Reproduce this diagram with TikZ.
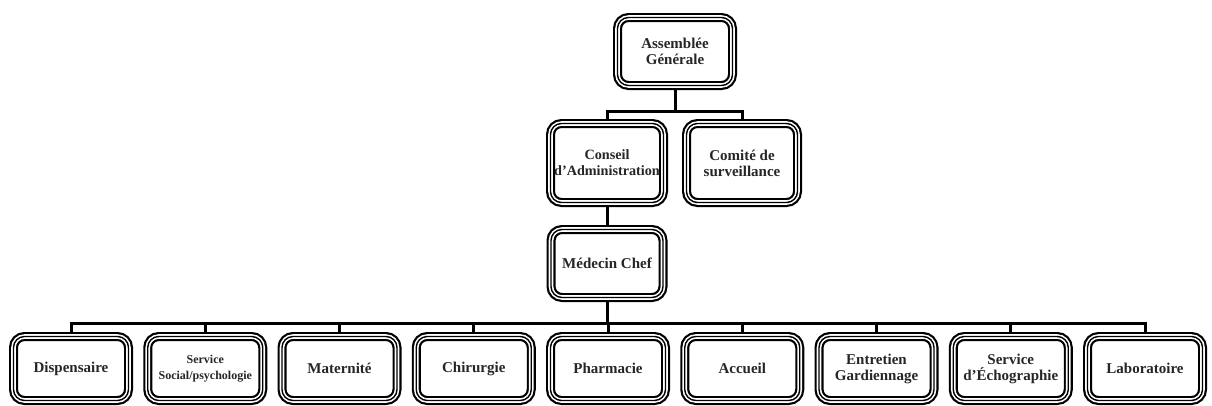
\documentclass[tikz,border=0pt]{standalone}
\usepackage{fontspec}
\setmainfont{Liberation Serif}
\newcommand\smalltxt{\fontsize{12}{13.5}\selectfont}
\tikzset{
    unit/.style={rectangle, rounded corners=11pt, draw=black, line width=9pt, fill=white,
        align=center, font=\bfseries\fontsize{15}{16}\selectfont, text=black!85,
        minimum width=115pt, minimum height=68pt, inner sep=1pt,
        postaction={draw=white, line width=4.6pt},
        postaction={draw=black, line width=1.4pt}},
    link/.style={line width=3pt, line cap=rect}
}
\begin{document}
\begin{tikzpicture}[x=1pt, y=-1pt]
    \useasboundingbox (0,0) rectangle (1212,405);
    % top levels
    \node[unit] (ag) at (675,51.5) {Assemblée\\Générale};
    \node[unit, minimum height=79pt, minimum width=113pt, font=\bfseries\fontsize{14.2}{16}\selectfont] (ca) at (607,163) {Conseil\\d’Administration};
    \node[unit, minimum height=79pt, minimum width=111pt] (cs) at (742,163) {Comité de\\surveillance};
    \node[unit, minimum width=112pt] (mc) at (607,263.5) {Médecin Chef};
    \coordinate (topbar) at (0,111);
    \coordinate (bar) at (0,323);
    % services
    \foreach \name/\txt [count=\i from 0] in {disp/Dispensaire,
            soc/{\smalltxt Service\\\smalltxt Social/psychologie},
            mat/Maternité, chir/Chirurgie, phar/Pharmacie, acc/Accueil,
            ent/{Entretien\\Gardiennage}, echo/{Service\\d’Échographie},
            labo/Laboratoire} {
        \node[unit, minimum height=64pt] (\name) at (71+134.25*\i,368.5) {\txt};
        \draw[link] (\name.north |- bar) -- ([yshift=2pt]\name.north);
    }
    % links
    \draw[link] (ag.south) -- (ag.south |- topbar);
    \draw[link] (ca.north |- topbar) -- (cs.north |- topbar);
    \draw[link] (ca.north |- topbar) -- ([yshift=2pt]ca.north);
    \draw[link] (cs.north |- topbar) -- ([yshift=2pt]cs.north);
    \draw[link] (ca.south) -- (mc.north);
    \draw[link] (mc.south) -- (mc.south |- bar);
    \draw[link] (disp.north |- bar) -- (labo.north |- bar);
\end{tikzpicture}
\end{document}
